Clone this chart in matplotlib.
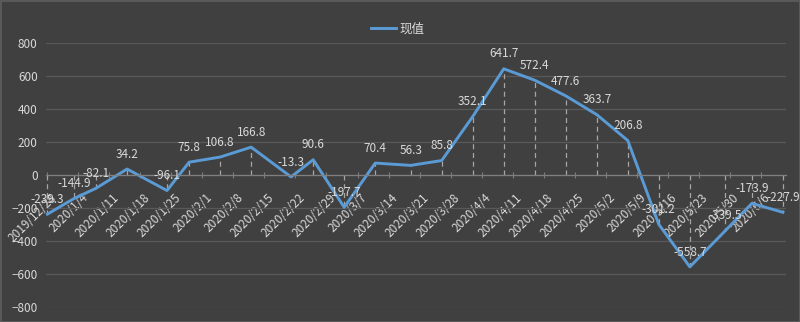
#!/usr/bin/env python3
import pandas as pd
import matplotlib.pyplot as plt
import matplotlib.transforms as mtransforms

# data (dates estimated from point positions)
dates = ["2019/12/28", "2020/1/3", "2020/1/8", "2020/1/15", "2020/1/24",
         "2020/1/29", "2020/2/5", "2020/2/12", "2020/2/21", "2020/2/26",
         "2020/3/4", "2020/3/11", "2020/3/19", "2020/3/26", "2020/4/2",
         "2020/4/9", "2020/4/16", "2020/4/23", "2020/4/30", "2020/5/7",
         "2020/5/14", "2020/5/21", "2020/5/29", "2020/6/4", "2020/6/11"]
values = [-239.3, -144.9, -82.1, 34.2, -96.1,
          75.8, 106.8, 166.8, -13.3, 90.6,
          -197.7, 70.4, 56.3, 85.8, 352.1,
          641.7, 572.4, 477.6, 363.7, 206.8,
          -301.2, -558.7, -339.5, -173.9, -227.9]
tick_labels = ["2019/12/28", "2020/1/4", "2020/1/11", "2020/1/18", "2020/1/25",
               "2020/2/1", "2020/2/8", "2020/2/15", "2020/2/22", "2020/2/29",
               "2020/3/7", "2020/3/14", "2020/3/21", "2020/3/28", "2020/4/4",
               "2020/4/11", "2020/4/18", "2020/4/25", "2020/5/2", "2020/5/9",
               "2020/5/16", "2020/5/23", "2020/5/30", "2020/6/6"]
y_ticks = [-800, -600, -400, -200, 0, 200, 400, 600, 800]
series_name = "现值"

BG = "#404040"
TEXT = "#d9d9d9"
GRID = "#595959"
BLUE = "#5b9bd5"

plt.rcParams['font.family'] = ['Noto Sans CJK SC', 'DejaVu Sans']


def main():
    start = pd.Timestamp(tick_labels[0])
    x = (pd.to_datetime(dates) - start).days
    tx = (pd.to_datetime(tick_labels) - start).days

    fig = plt.figure(figsize=(8, 3.22), dpi=100, facecolor=BG)
    fig.patch.set_edgecolor("#595959")
    fig.patch.set_linewidth(1)
    ax = fig.add_axes([0.0575, 0.0475, 0.925, 0.82], facecolor=BG)

    # axis line sits at y=0; set this before the tick labels (it resets ticks)
    for side in ["top", "left", "right"]:
        ax.spines[side].set_visible(False)
    ax.spines["bottom"].set_position(("data", 0))
    ax.spines["bottom"].set_color("#7f7f7f")
    ax.spines["bottom"].set_linewidth(0.9)

    # drop lines from the axis to each point
    ax.vlines(x, 0, values, colors="#a6a6a6", linestyles=(0, (4, 3)),
              linewidth=0.9, zorder=1.8)
    line, = ax.plot(x, values, color=BLUE, linewidth=2.1,
                    solid_joinstyle="round", zorder=2, label=series_name)

    for xi, v in zip(x, values):
        ax.annotate(f"{v:.1f}", (xi, v), xytext=(0, 6), textcoords="offset points",
                    ha="center", va="bottom", color=TEXT, fontsize=8.5,
                    zorder=5, annotation_clip=False)

    ax.set_xlim(-0.3, x[-1] + 0.7)
    ax.set_ylim(-800, 800)
    ax.set_yticks(y_ticks)
    ax.set_xticks(tx)
    ax.set_xticklabels(tick_labels)

    ax.grid(True, axis="y", color=GRID, linewidth=0.9)
    ax.set_axisbelow(True)

    ax.tick_params(axis="x", colors="#7f7f7f", labelcolor=TEXT, labelsize=8.5,
                   direction="inout", length=4, width=0.8, pad=10)
    ax.tick_params(axis="y", colors=TEXT, labelsize=8.5, length=0, pad=6)
    shift = mtransforms.ScaledTranslation(3 / 100, 0, fig.dpi_scale_trans)
    for lab in ax.get_xticklabels():
        lab.set_rotation(45)
        lab.set_ha("right")
        lab.set_va("top")
        lab.set_rotation_mode("anchor")
        lab.set_transform(lab.get_transform() + shift)

    fig.legend(handles=[line], loc="center", bbox_to_anchor=(0.4975, 0.91),
               frameon=False, fontsize=9, labelcolor=TEXT, handlelength=2.0,
               handletextpad=0.3)

    fig.savefig("out.png", dpi=100, facecolor=BG)
    plt.close(fig)


if __name__ == "__main__":
    main()
